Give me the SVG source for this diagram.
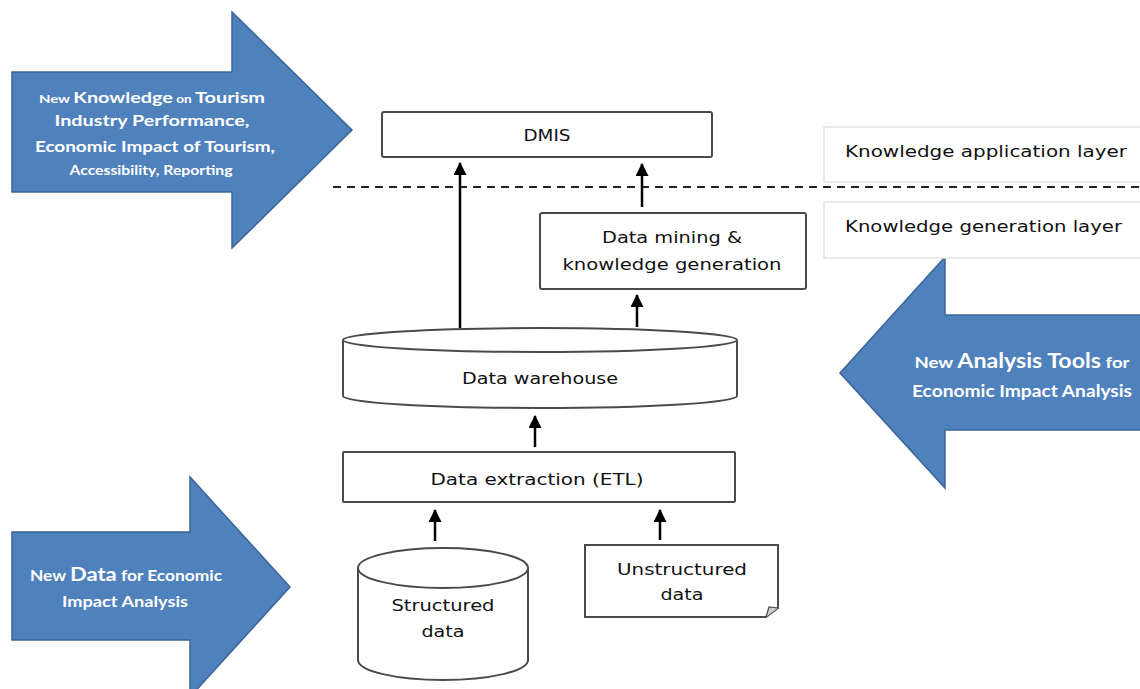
<svg xmlns="http://www.w3.org/2000/svg" width="1140" height="689" viewBox="0 0 1140 689">
<style>
.big{fill:#4F81BD;stroke:#3A6596;stroke-width:1.5}
.at{fill:#fff;font-family:Lato,"Open Sans",sans-serif;font-weight:bold;text-anchor:middle}
.box{fill:#fff;stroke:#4a4a4a;stroke-width:2}
.lbl{fill:#111;font-family:"DejaVu Sans",sans-serif;font-size:16px;text-anchor:middle}
.lay{fill:#fff;stroke:#e2e2e2;stroke-width:1.5}
.layt{fill:#111;font-family:"DejaVu Sans",sans-serif;font-size:16px}
.con{stroke:#000;stroke-width:2.5;fill:none;marker-end:url(#ah)}
</style>
<defs>
<marker id="ah" markerUnits="userSpaceOnUse" viewBox="0 0 12 12" markerWidth="13" markerHeight="13" refX="11" refY="6" orient="auto">
<path d="M0,0 L12,6 L0,12 z" fill="#000"/>
</marker>
</defs>
<rect width="1140" height="689" fill="#fff"/>

<g id="arrow-knowledge">
<polygon class="big" points="12,72 232,72 232,12 352,130 232,248 232,192 12,192"/>
<text class="at" x="152" y="103" textLength="226" lengthAdjust="spacingAndGlyphs"><tspan font-size="12">New </tspan><tspan font-size="16">Knowledge</tspan><tspan font-size="11"> on </tspan><tspan font-size="16">Tourism</tspan></text>
<text class="at" x="152" y="126" font-size="16" textLength="195" lengthAdjust="spacingAndGlyphs">Industry Performance,</text>
<text class="at" x="155" y="152" font-size="16" textLength="240" lengthAdjust="spacingAndGlyphs">Economic Impact of Tourism,</text>
<text class="at" x="151" y="175" font-size="13" textLength="163" lengthAdjust="spacingAndGlyphs">Accessibility, Reporting</text>
</g>

<g id="arrow-tools">
<polygon class="big" points="1145,315 945,315 945,257 840,373 945,488 945,430 1145,430"/>
<text class="at" x="1022" y="368" textLength="215" lengthAdjust="spacingAndGlyphs"><tspan font-size="16">New </tspan><tspan font-size="20">Analysis Tools</tspan><tspan font-size="16"> for</tspan></text>
<text class="at" x="1022" y="397" font-size="17" textLength="220" lengthAdjust="spacingAndGlyphs">Economic Impact Analysis</text>
</g>

<g id="arrow-data">
<polygon class="big" points="12,532 190,532 190,477 290,587 190,697 190,640 12,640"/>
<text class="at" x="126" y="581" textLength="192" lengthAdjust="spacingAndGlyphs"><tspan font-size="15">New </tspan><tspan font-size="19">Data</tspan><tspan font-size="15"> for Economic</tspan></text>
<text class="at" x="125" y="607" font-size="15" textLength="126" lengthAdjust="spacingAndGlyphs">Impact Analysis</text>
</g>

<g id="layer-application">
<rect class="lay" x="824" y="127" width="330" height="55"/>
<text class="layt" x="845" y="157" textLength="282" lengthAdjust="spacingAndGlyphs">Knowledge application layer</text>
</g>
<g id="layer-generation">
<rect class="lay" x="824" y="202" width="330" height="56"/>
<text class="layt" x="845" y="232" textLength="277" lengthAdjust="spacingAndGlyphs">Knowledge generation layer</text>
</g>
<line x1="333" y1="187" x2="1140" y2="187" stroke="#222" stroke-width="1.8" stroke-dasharray="8 6"/>

<g id="dmis">
<rect class="box" x="382" y="112" width="330" height="45" rx="2"/>
<text class="lbl" x="547" y="141" textLength="47" lengthAdjust="spacingAndGlyphs">DMIS</text>
</g>

<g id="datamining">
<rect class="box" x="540" y="213" width="266" height="76" rx="2"/>
<text class="lbl" x="672" y="243" textLength="140" lengthAdjust="spacingAndGlyphs">Data mining &amp;</text>
<text class="lbl" x="672" y="270" textLength="219" lengthAdjust="spacingAndGlyphs">knowledge generation</text>
</g>

<g id="warehouse">
<path class="box" d="M343,340 A197,12 0 0 1 737,340 V396 A197,12 0 0 1 343,396 Z"/>
<path d="M343,340 A197,12 0 0 0 737,340" fill="none" stroke="#4a4a4a" stroke-width="2"/>
<text class="lbl" x="540" y="384" textLength="156" lengthAdjust="spacingAndGlyphs">Data warehouse</text>
</g>

<g id="etl">
<rect class="box" x="343" y="452" width="392" height="50" rx="1"/>
<text class="lbl" x="537" y="485" textLength="213" lengthAdjust="spacingAndGlyphs">Data extraction (ETL)</text>
</g>

<g id="structured">
<path class="box" d="M358,568 A85,20 0 0 1 528,568 V660 A85,20 0 0 1 358,660 Z"/>
<path d="M358,568 A85,20 0 0 0 528,568" fill="none" stroke="#4a4a4a" stroke-width="2"/>
<text class="lbl" x="443" y="611" textLength="103" lengthAdjust="spacingAndGlyphs">Structured</text>
<text class="lbl" x="443" y="637" textLength="43" lengthAdjust="spacingAndGlyphs">data</text>
</g>

<g id="unstructured">
<path class="box" d="M585,545 H778 V608 L766,617 H585 Z"/>
<path d="M766,617 L769,607 L778,608" fill="#ccc" stroke="#4a4a4a" stroke-width="1.2"/>
<text class="lbl" x="682" y="575" textLength="130" lengthAdjust="spacingAndGlyphs">Unstructured</text>
<text class="lbl" x="682" y="600" textLength="43" lengthAdjust="spacingAndGlyphs">data</text>
</g>

<g id="connectors">
<line class="con" x1="460" y1="328" x2="460" y2="163"/>
<line class="con" x1="642" y1="207" x2="642" y2="164"/>
<line class="con" x1="637" y1="327" x2="637" y2="295"/>
<line class="con" x1="535" y1="447" x2="535" y2="416"/>
<line class="con" x1="435" y1="541" x2="435" y2="510"/>
<line class="con" x1="660" y1="540" x2="660" y2="510"/>
</g>
</svg>
